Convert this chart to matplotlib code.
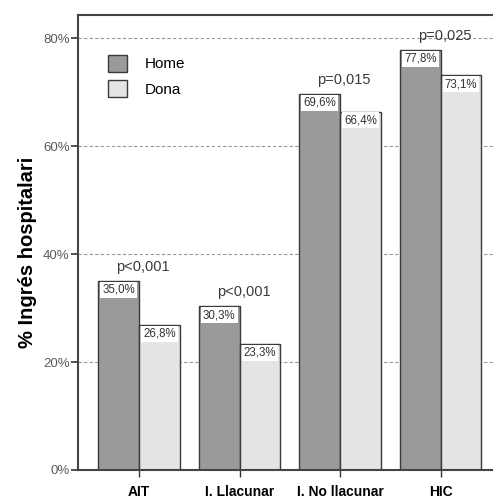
import matplotlib
matplotlib.use("Agg")
import matplotlib.pyplot as plt
import numpy as np

categories = ["AIT", "I. Llacunar", "I. No llacunar", "HIC"]
home = [35.0, 30.3, 69.6, 77.8]
dona = [26.8, 23.3, 66.4, 73.1]
pvalues = ["p<0,001", "p<0,001", "p=0,015", "p=0,025"]
yticks = [0, 20, 40, 60, 80]

plt.rcParams['font.family'] = ['Liberation Sans', 'DejaVu Sans']

fig = plt.figure(figsize=(4.93, 5.0), dpi=100)
ax = fig.add_axes([78/493, 30/500, 424/493, 455/500])

x = np.arange(len(categories))
w = 0.405
c_home = "#9a9a9a"
c_dona = "#e4e4e4"
edge = "#3a3a3a"

ax.set_axisbelow(True)
ax.yaxis.grid(True, linestyle=(0, (3, 2)), color="#9a9a9a", linewidth=0.8)

ax.bar(x - w/2, home, w, color=c_home, edgecolor=edge, linewidth=1.0, label="Home", zorder=2)
ax.bar(x + w/2, dona, w, color=c_dona, edgecolor=edge, linewidth=1.0, label="Dona", zorder=2)

def label_bars(xs, vals):
    for xi, v in zip(xs, vals):
        ax.add_patch(plt.Rectangle((xi - w/2 + 0.02, v - 3.1), w - 0.04, 2.95,
                                   facecolor="white", edgecolor="none", zorder=3))
        ax.text(xi, v - 1.6, f"{v:.1f}%".replace(".", ","), ha="center", va="center",
                fontsize=8.3, color="#333333", zorder=4)

label_bars(x - w/2, home)
label_bars(x + w/2, dona)

for xi, hv, p in zip(x, home, pvalues):
    ax.text(xi + 0.04, hv + 2.7, p, ha="center", va="center", fontsize=10.5, color="#3a3a3a")

ax.set_xlim(-0.607, 3.61)
ax.set_ylim(0, 84.3)
ax.set_yticks(yticks)
ax.set_yticklabels([f"{t}%" for t in yticks], fontsize=9.5, color="#5a5a5a")
ax.set_xticks(x)
ax.set_xticklabels(categories, fontsize=10, fontweight="bold")
ax.tick_params(axis="y", length=5, width=1.2, color="#333333", pad=1)
ax.tick_params(axis="x", length=5, width=1.0, color="#333333", pad=6)
ax.set_ylabel("% Ingrés hospitalari", fontsize=14.5, fontweight="bold")
ax.yaxis.set_label_coords(-0.097, 0.479)

for s in ["left", "top", "bottom"]:
    ax.spines[s].set_color("#444444")
    ax.spines[s].set_linewidth(1.5)
ax.spines["right"].set_visible(False)

ax.legend(loc="upper left", bbox_to_anchor=(0.07, 0.912), frameon=False,
          borderpad=0, borderaxespad=0,
          fontsize=11, handlelength=1.25, handleheight=1.3, handletextpad=1.2,
          labelspacing=0.55)

fig.savefig("out.png", dpi=100)
